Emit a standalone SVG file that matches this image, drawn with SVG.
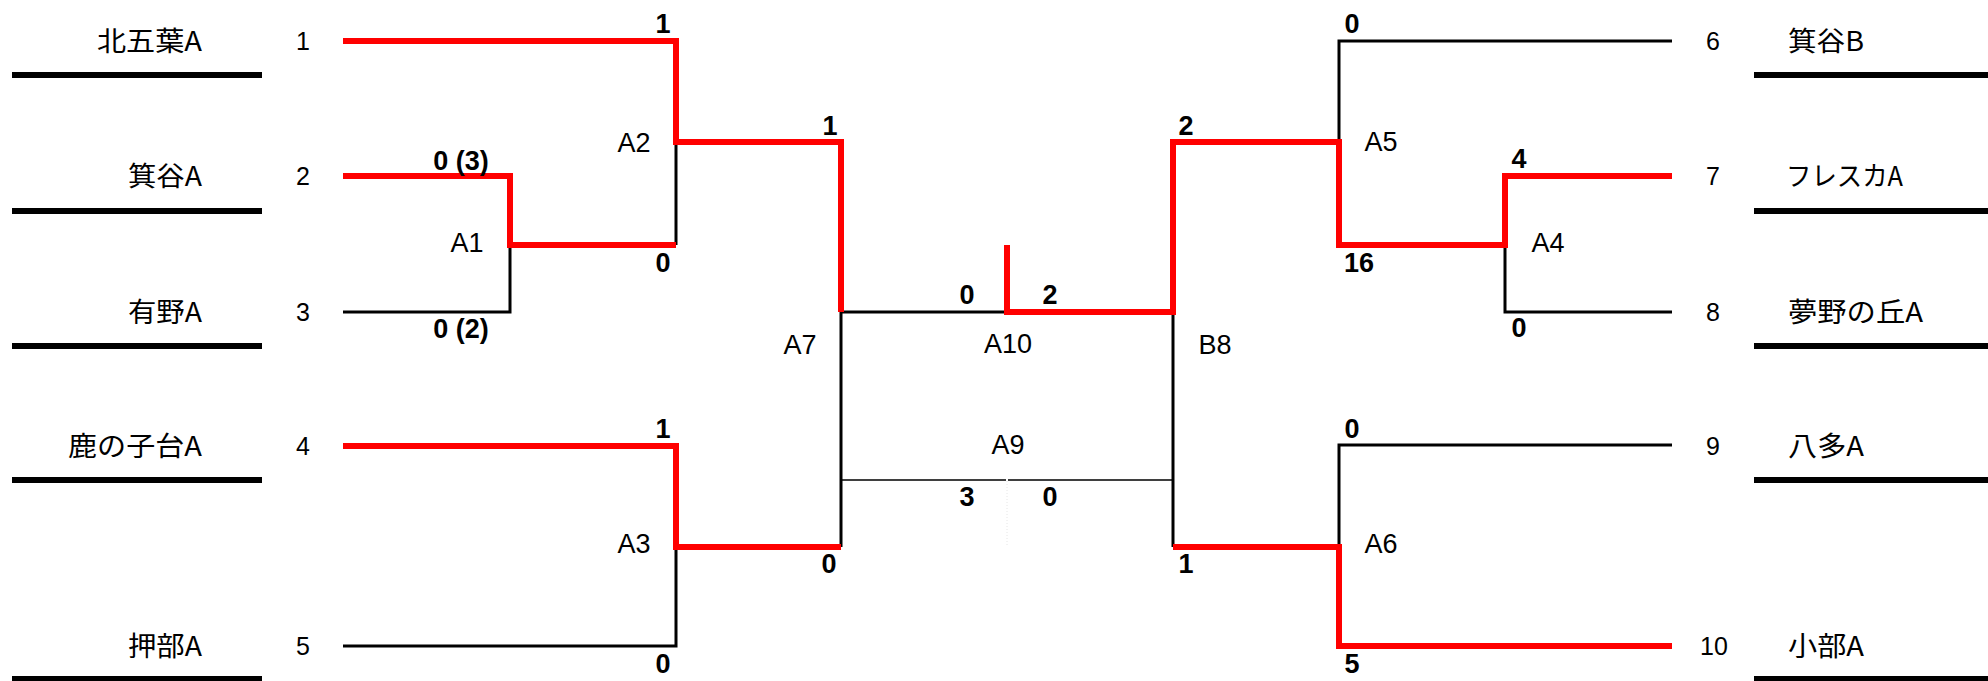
<svg xmlns="http://www.w3.org/2000/svg" width="1988" height="681" viewBox="0 0 1988 681">
<style>
.team{font-family:"Noto Sans CJK JP","Noto Sans",sans-serif;font-size:27px;fill:#000}
.seed{font-family:"Liberation Sans",Arial,sans-serif;font-size:25px;fill:#000;text-anchor:middle}
.match{font-family:"Liberation Sans",Arial,sans-serif;font-size:27px;fill:#000;text-anchor:middle}
.score{font-family:"Liberation Sans",Arial,sans-serif;font-size:27px;font-weight:bold;fill:#000;text-anchor:middle}
.bar{stroke:#000;stroke-width:6;fill:none}
.blk{stroke:#000;stroke-width:3;fill:none}
.red{stroke:#ff0000;stroke-width:6;fill:none;stroke-linejoin:miter}
.thin{stroke:#000;stroke-width:1.5;fill:none}
</style>
<rect width="1988" height="681" fill="#fff"/>
<g id="connectors">
<path class="blk" d="M676,142 V245"/>
<path class="blk" d="M343,312 H510 V245"/>
<path class="blk" d="M343,646 H676 V547"/>
<path class="blk" d="M841,312 H1007"/>
<path class="blk" d="M841,312 V547"/>
<path class="blk" d="M1173,312 V547"/>
<path class="blk" d="M1339,142 V41 H1672"/>
<path class="blk" d="M1505,245 V312 H1672"/>
<path class="blk" d="M1339,547 V445 H1672"/>
<path class="thin" d="M841,480 H1006 M1008,480 H1173"/>
<path d="M1007,481 V545" stroke="#e6e6e6" stroke-width="1" stroke-dasharray="1,2" fill="none"/>
<path class="red" d="M343,41 H676 V142 H841 V312"/>
<path class="red" d="M343,176 H510 V245 H676"/>
<path class="red" d="M343,446 H676 V547 H841"/>
<path class="red" d="M1007,245 V312 H1173 V142 H1339 V245 H1505 V176 H1672"/>
<path class="red" d="M1173,547 H1339 V646 H1672"/>
</g>
<g id="team-1"><text class="team" x="202" y="51" text-anchor="end" textLength="105" lengthAdjust="spacingAndGlyphs">北五葉A</text><text class="seed" x="303" y="50">1</text><line class="bar" x1="12" y1="75" x2="262" y2="75"/></g>
<g id="team-2"><text class="team" x="202" y="186" text-anchor="end" textLength="74" lengthAdjust="spacingAndGlyphs">箕谷A</text><text class="seed" x="303" y="185">2</text><line class="bar" x1="12" y1="211" x2="262" y2="211"/></g>
<g id="team-3"><text class="team" x="202" y="322" text-anchor="end" textLength="74" lengthAdjust="spacingAndGlyphs">有野A</text><text class="seed" x="303" y="321">3</text><line class="bar" x1="12" y1="346" x2="262" y2="346"/></g>
<g id="team-4"><text class="team" x="202" y="456" text-anchor="end" textLength="134" lengthAdjust="spacingAndGlyphs">鹿の子台A</text><text class="seed" x="303" y="455">4</text><line class="bar" x1="12" y1="480" x2="262" y2="480"/></g>
<g id="team-5"><text class="team" x="202" y="656" text-anchor="end" textLength="74" lengthAdjust="spacingAndGlyphs">押部A</text><text class="seed" x="303" y="655">5</text><line class="bar" x1="12" y1="679" x2="262" y2="679"/></g>
<g id="team-6"><text class="team" x="1788" y="51" textLength="76" lengthAdjust="spacingAndGlyphs">箕谷B</text><text class="seed" x="1713" y="50">6</text><line class="bar" x1="1754" y1="75" x2="1988" y2="75"/></g>
<g id="team-7"><text class="team" x="1786" y="186" textLength="117" lengthAdjust="spacingAndGlyphs">フレスカA</text><text class="seed" x="1713" y="185">7</text><line class="bar" x1="1754" y1="211" x2="1988" y2="211"/></g>
<g id="team-8"><text class="team" x="1788" y="322" textLength="135" lengthAdjust="spacingAndGlyphs">夢野の丘A</text><text class="seed" x="1713" y="321">8</text><line class="bar" x1="1754" y1="346" x2="1988" y2="346"/></g>
<g id="team-9"><text class="team" x="1788" y="456" textLength="76" lengthAdjust="spacingAndGlyphs">八多A</text><text class="seed" x="1713" y="455">9</text><line class="bar" x1="1754" y1="480" x2="1988" y2="480"/></g>
<g id="team-10"><text class="team" x="1788" y="656" textLength="76" lengthAdjust="spacingAndGlyphs">小部A</text><text class="seed" x="1714" y="655">10</text><line class="bar" x1="1754" y1="679" x2="1988" y2="679"/></g>
<g id="match-A1"><text class="match" x="467" y="252">A1</text><text class="score" x="461" y="170">0 (3)</text><text class="score" x="461" y="338">0 (2)</text></g>
<g id="match-A2"><text class="match" x="634" y="152">A2</text><text class="score" x="663" y="33">1</text><text class="score" x="663" y="272">0</text></g>
<g id="match-A3"><text class="match" x="634" y="553">A3</text><text class="score" x="663" y="438">1</text><text class="score" x="663" y="673">0</text></g>
<g id="match-A7"><text class="match" x="800" y="354">A7</text><text class="score" x="830" y="135">1</text><text class="score" x="829" y="573">0</text></g>
<g id="match-A10"><text class="match" x="1008" y="353">A10</text><text class="score" x="967" y="304">0</text><text class="score" x="1050" y="304">2</text></g>
<g id="match-A9"><text class="match" x="1008" y="454">A9</text><text class="score" x="967" y="506">3</text><text class="score" x="1050" y="506">0</text></g>
<g id="match-B8"><text class="match" x="1215" y="354">B8</text><text class="score" x="1186" y="135">2</text><text class="score" x="1186" y="573">1</text></g>
<g id="match-A5"><text class="match" x="1381" y="151">A5</text><text class="score" x="1352" y="33">0</text><text class="score" x="1359" y="272">16</text></g>
<g id="match-A4"><text class="match" x="1548" y="252">A4</text><text class="score" x="1519" y="168">4</text><text class="score" x="1519" y="337">0</text></g>
<g id="match-A6"><text class="match" x="1381" y="553">A6</text><text class="score" x="1352" y="438">0</text><text class="score" x="1352" y="673">5</text></g>
</svg>
